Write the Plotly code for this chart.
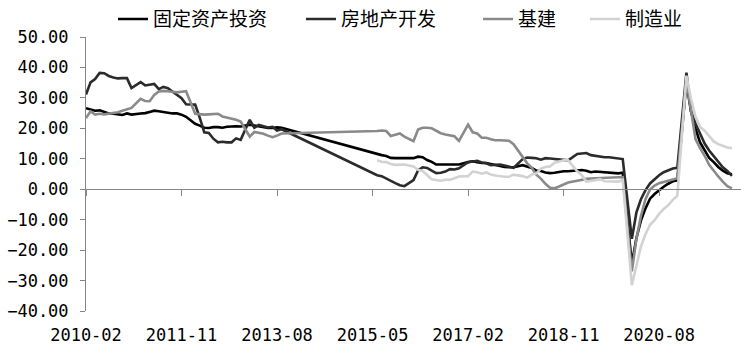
import plotly.graph_objects as go
import pandas as pd

N = None
months = [p.strftime('%Y-%m') for p in pd.period_range('2010-02', '2021-12', freq='M')]
tick_labels = ['2010-02', '2011-11', '2013-08', '2015-05', '2017-02', '2018-11', '2020-08']
series_names = ['固定资产投资', '房地产开发', '基建', '制造业']

# 固定资产投资 (cumulative y/y %, Feb 2010 - Dec 2021)
fai = (
    [26.6, 26.3, 25.8, 25.9, 25.5, 24.9, 24.8, 24.5, 24.4, 24.9, 24.5]            # 2010
    + [N, 24.9, 25.0, 25.4, 25.8, 25.6, 25.4, 25.0, 24.9, 24.9, 24.5, 23.8]       # 2011
    + [N, 21.5, 20.9, 20.2, 20.1, 20.4, 20.4, 20.2, 20.5, 20.7, 20.7, 20.6]       # 2012
    + [N, 21.2, 20.9, 20.6, 20.4, 20.1, 20.1, 20.3, 20.2, N, N, N]                # 2013
    + [N, N, N, N, N, N, N, N, N, N, N, N]                                        # 2014
    + [N, N, N, N, N, 11.4, 11.2, 10.9, 10.3, 10.2, 10.2, 10.0]                   # 2015
    + [N, 10.2, 10.7, 10.5, 9.6, 9.0, 8.1, 8.1, 8.2, 8.3, 8.3, 8.1]               # 2016
    + [N, 8.9, 9.2, 8.9, 8.6, 8.6, 8.3, 7.8, 7.5, 7.3, 7.2, 7.2]                  # 2017
    + [N, 7.9, 7.5, 7.0, 6.1, 6.0, 5.5, 5.3, 5.4, 5.7, 5.9, 5.9]                  # 2018
    + [N, 6.1, 6.3, 6.1, 5.6, 5.8, 5.7, 5.5, 5.4, 5.2, 5.2, 5.4]                  # 2019
    + [N, -24.5, -16.1, -10.3, -6.3, -3.1, -1.6, -0.3, 0.8, 1.8, 2.6, 2.9]        # 2020
    + [N, 35.0, 25.6, 19.9, 15.4, 12.6, 10.3, 8.9, 7.3, 6.1, 5.2, 4.9]            # 2021
)

# 房地产开发
real_estate = (
    [31.1, 35.1, 36.2, 38.2, 38.1, 37.2, 36.7, 36.4, 36.5, 36.5, 33.2]            # 2010
    + [N, 35.2, 34.1, 34.3, 34.6, 32.9, 33.6, 33.2, 32.0, 31.1, 29.9, 27.9]       # 2011
    + [N, 27.8, 23.5, 18.7, 18.5, 16.6, 15.4, 15.6, 15.4, 15.4, 16.7, 16.2]       # 2012
    + [N, 22.8, 20.2, 21.1, 20.6, 20.3, 20.5, 19.3, 19.7, N, N, N]                # 2013
    + [N, N, N, N, N, N, N, N, N, N, N, N]                                        # 2014
    + [N, N, N, N, N, 4.6, 4.3, 3.5, 2.6, 2.0, 1.3, 1.0]                          # 2015
    + [N, 3.0, 6.2, 7.2, 7.0, 6.1, 5.3, 5.4, 5.8, 6.6, 6.5, 6.9]                  # 2016
    + [N, 8.9, 9.1, 9.3, 8.8, 8.5, 7.9, 7.9, 8.1, 7.8, 7.5, 7.0]                  # 2017
    + [N, 9.9, 10.4, 10.3, 10.2, 9.7, 10.2, 10.1, 9.9, 9.7, 9.7, 9.5]             # 2018
    + [N, 11.6, 11.8, 11.9, 11.2, 10.9, 10.6, 10.5, 10.5, 10.3, 10.2, 9.9]        # 2019
    + [N, -16.3, -7.7, -3.3, -0.3, 1.9, 3.4, 4.6, 5.6, 6.3, 6.8, 7.0]             # 2020
    + [N, 38.3, 25.6, 21.6, 18.3, 15.0, 12.7, 10.9, 8.8, 7.2, 6.0, 4.4]           # 2021
)

# 基建
infrastructure = (
    [23.4, 25.6, 24.5, 24.8, 24.6, 24.8, 24.9, 25.3, 25.8, 26.3, 26.7]            # 2010
    + [N, 29.7, 29.0, 28.9, 31.0, 32.1, 32.3, 32.2, 32.0, 31.8, 32.0, 32.2]       # 2011
    + [N, 24.8, 24.6, 24.5, 24.6, 24.7, 24.8, 23.9, 23.6, 23.3, 22.8, 22.2]       # 2012
    + [N, 17.3, 18.8, 18.5, 18.2, 17.6, 17.1, 17.6, 18.3, N, N, N]                # 2013
    + [N, N, N, N, N, N, N, N, N, N, N, N]                                        # 2014
    + [N, N, N, N, N, 19.1, 19.3, 19.1, 17.5, 17.9, 18.3, 17.3]                   # 2015
    + [N, 15.8, 19.6, 20.2, 20.2, 20.0, 19.2, 18.4, 18.0, 17.8, 17.4, 15.9]       # 2016
    + [N, 21.2, 18.7, 18.3, 16.9, 16.9, 16.4, 16.1, 16.1, 16.1, 15.9, 14.8]       # 2017
    + [N, 10.8, 8.5, 7.0, 4.8, 3.5, 1.8, 0.5, 0.3, 0.9, 1.5, 2.2]                 # 2018
    + [N, 2.8, 3.2, 3.4, 3.5, 3.6, 3.6, 3.7, 3.8, 3.9, 3.9, 4.0]                  # 2019
    + [N, -27.0, -16.4, -8.8, -3.3, -0.1, 1.2, 2.0, 2.4, 3.0, 3.3, 3.6]           # 2020
    + [N, 35.5, 26.5, 16.5, 13.5, 11.0, 8.0, 6.0, 4.2, 2.5, 1.0, 0.3]             # 2021
)

# 制造业
manufacturing = (
    [N, N, N, N, N, N, N, N, N, N, N]                                             # 2010
    + [N] * 12                                                                    # 2011
    + [N] * 12                                                                    # 2012
    + [N] * 12                                                                    # 2013
    + [N] * 12                                                                    # 2014
    + [N, N, N, N, N, 9.5, 9.0, 8.9, 8.3, 8.0, 8.0, 8.1]                          # 2015
    + [N, 7.5, 6.4, 6.0, 4.6, 3.3, 3.0, 2.8, 3.1, 3.1, 3.6, 4.2]                  # 2016
    + [N, 4.3, 5.8, 5.6, 5.1, 5.5, 4.8, 4.5, 4.2, 4.1, 4.1, 4.8]                  # 2017
    + [N, 4.3, 3.8, 4.8, 5.2, 6.8, 7.3, 7.5, 8.7, 9.1, 9.5, 9.5]                  # 2018
    + [N, 5.9, 4.6, 2.5, 2.7, 3.0, 3.3, 2.6, 2.5, 2.6, 2.5, 3.1]                  # 2019
    + [N, -31.5, -25.2, -18.8, -14.8, -11.7, -10.2, -8.1, -6.5, -5.3, -3.5, -2.2] # 2020
    + [N, 37.3, 29.8, 23.8, 20.4, 19.2, 17.3, 15.7, 14.8, 14.2, 13.7, 13.5]       # 2021
)

colors = ['#000000', '#2b2b2b', '#8a8a8a', '#d2d2d2']
all_series = [fai, real_estate, infrastructure, manufacturing]
legend_ids = ['legend', 'legend2', 'legend3', 'legend4']
legend_x = [0.0412, 0.3282, 0.5985, 0.7618]

axis_color = '#868686'
num_font = dict(family='DejaVu Sans Mono', size=17, color='#000000')
leg_font = dict(family='Noto Sans CJK SC', size=19, color='#000000')

fig = go.Figure()
for name, vals, col, lid in zip(series_names, all_series, colors, legend_ids):
    fig.add_trace(go.Scatter(
        x=months, y=vals, name=name, mode='lines', connectgaps=True,
        line=dict(color=col, width=2.6), legend=lid,
    ))

# helper trace for the zero-line axis carrying the tick marks
fig.add_trace(go.Scatter(x=months, y=[None] * len(months), xaxis='x2', yaxis='y',
                         mode='lines', showlegend=False, hoverinfo='skip'))

y_min, y_max = -40, 50
x_range = [0, 144]

legends = {}
for lid, lx in zip(legend_ids, legend_x):
    legends[lid] = dict(orientation='h', x=lx, xanchor='left', y=1.065, yanchor='middle',
                        font=leg_font, bgcolor='rgba(0,0,0,0)', borderwidth=0)

fig.update_layout(
    width=741, height=353,
    margin=dict(l=86, r=0, t=35, b=42),
    paper_bgcolor='white', plot_bgcolor='white',
    showlegend=True,
    xaxis=dict(type='category', categoryorder='array', categoryarray=months,
               range=x_range, tickmode='array', tickvals=tick_labels,
               showline=False, ticks='', showgrid=False, zeroline=False,
               tickfont=num_font, ticklabelstandoff=12),
    xaxis2=dict(type='category', categoryorder='array', categoryarray=months,
                overlaying='x', anchor='free', position=(0 - y_min) / (y_max - y_min),
                range=x_range, tickmode='array', tickvals=tick_labels,
                showline=True, linecolor=axis_color, linewidth=1,
                ticks='outside', ticklen=6, tickcolor=axis_color,
                showticklabels=False, showgrid=False, zeroline=False),
    yaxis=dict(range=[y_min, y_max], tick0=0, dtick=10, tickformat='.2f',
               showline=True, linecolor=axis_color, linewidth=1,
               ticks='outside', ticklen=5, tickcolor=axis_color,
               showgrid=False, zeroline=False, tickfont=num_font,
               ticklabelstandoff=8),
    **legends,
)

fig.write_html('out.html')
